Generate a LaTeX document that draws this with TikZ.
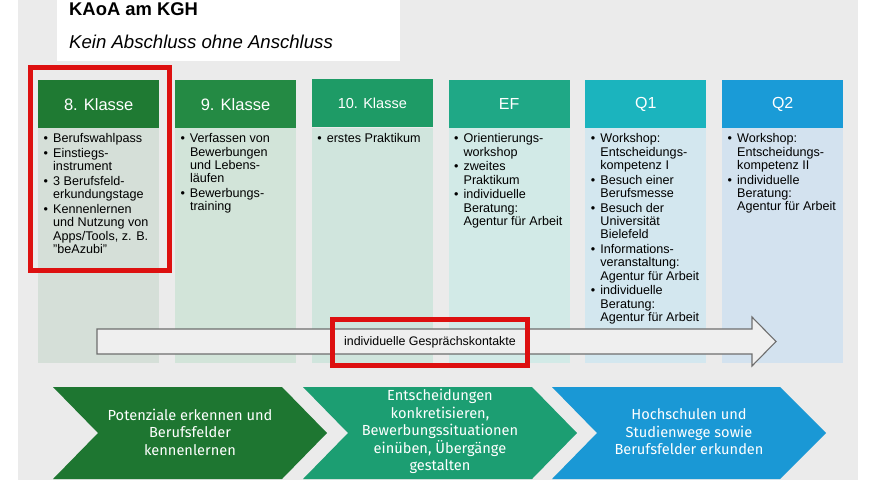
\documentclass[tikz,border=0pt]{standalone}
\usepackage{fontspec}
\setmainfont{Liberation Sans}
\newfontfamily\fira{Fira Sans}
\definecolor{bgc}{HTML}{EBEBEB}
\definecolor{hA}{HTML}{1F7A33}
\definecolor{hB}{HTML}{248A44}
\definecolor{hC}{HTML}{1E9B66}
\definecolor{hD}{HTML}{1FA886}
\definecolor{hE}{HTML}{1BB4BE}
\definecolor{hF}{HTML}{1A9BD7}
\definecolor{bA}{HTML}{D5DFD8}
\definecolor{bB}{HTML}{D2E4D9}
\definecolor{bC}{HTML}{D0E5DD}
\definecolor{bD}{HTML}{D2EAE7}
\definecolor{bE}{HTML}{D3E7EF}
\definecolor{bF}{HTML}{D3E2EF}
\definecolor{cA}{HTML}{1E7631}
\definecolor{cB}{HTML}{1C9E72}
\definecolor{cC}{HTML}{1A98D5}
\definecolor{redc}{HTML}{DD1010}
\definecolor{arrowfill}{HTML}{EFEFEF}
\definecolor{arrowline}{HTML}{6E6E6E}
\newcommand{\bul}{\makebox[9.5pt][l]{\textbullet}}
\newcommand{\ind}{\hspace*{9.5pt}}
\begin{document}
\begin{tikzpicture}[x=1pt,y=-1pt,
  hdr/.style={anchor=north west,minimum width=121pt,minimum height=48pt,inner sep=0pt,text=white},
  bodybox/.style={anchor=north west,minimum width=121pt,minimum height=235pt,inner sep=0pt},
  bodytext/.style={anchor=north west,inner sep=0pt,align=left,font=\fontsize{12.6}{13.3}\selectfont},
  chev/.style={text=white,align=center,font=\fira\fontsize{14.6}{17.6}\selectfont},
  redbox/.style={draw=redc,line width=5pt}]
\useasboundingbox (0,0) rectangle (880,480);
\fill[bgc] (18,0) rectangle (858,480);
% title
\fill[white] (57,0) rectangle (400,61);
\node[anchor=base west,inner sep=0pt] (t1) at (69,15.2) {\bfseries\fontsize{18.4}{22}\selectfont KAoA am KGH};
\node[anchor=base west,inner sep=0pt] (t2) at (69,48.7) {\itshape\fontsize{18.6}{22}\selectfont Kein Abschluss ohne Anschluss};
% columns
\node[bodybox,fill=bA] (b1) at (38,128) {};
\node[bodybox,fill=bB] (b2) at (174.8,128) {};
\node[bodybox,fill=bC] (b3) at (311.6,128) {};
\node[bodybox,fill=bD] (b4) at (448.4,128) {};
\node[bodybox,fill=bE] (b5) at (585.2,128) {};
\node[bodybox,fill=bF] (b6) at (722,128) {};
\node[hdr,fill=hA,font=\fontsize{16.5}{18}\selectfont] (h1) at (38,80) {8. Klasse};
\node[hdr,fill=hB,font=\fontsize{16.5}{18}\selectfont] (h2) at (174.8,80) {9. Klasse};
\node[hdr,fill=hC,font=\fontsize{14.5}{16}\selectfont] (h3) at (311.6,79) {10. Klasse};
\node[hdr,fill=hD,font=\fontsize{16}{17}\selectfont] (h4) at (448.4,80) {EF};
\node[hdr,fill=hE,font=\fontsize{16}{17}\selectfont] (h5) at (585.2,80) {Q1};
\node[hdr,fill=hF,font=\fontsize{16}{17}\selectfont] (h6) at (722,80) {Q2};
% body texts
\node[bodytext] (x1) at (43.5,133.5) {\bul Berufswahlpass\\[1.4pt]
\bul Einstiegs-\\\ind instrument\\[1.4pt]
\bul 3 Berufsfeld-\\\ind erkundungstage\\[1.4pt]
\bul Kennenlernen\\\ind und Nutzung von\\\ind Apps/Tools, z. B.\\\ind "beAzubi"};
\node[bodytext] (x2) at (180.3,133.5) {\bul Verfassen von\\\ind Bewerbungen\\\ind und Lebens-\\\ind läufen\\[1.4pt]
\bul Bewerbungs-\\\ind training};
\node[bodytext] (x3) at (317.1,133.5) {\bul erstes Praktikum};
\node[bodytext] (x4) at (453.9,133.5) {\bul Orientierungs-\\\ind workshop\\[1.4pt]
\bul zweites\\\ind Praktikum\\[1.4pt]
\bul individuelle\\\ind Beratung:\\\ind Agentur für Arbeit};
\node[bodytext] (x5) at (590.7,133.5) {\bul Workshop:\\\ind Entscheidungs-\\\ind kompetenz I\\[1.4pt]
\bul Besuch einer\\\ind Berufsmesse\\[1.4pt]
\bul Besuch der\\\ind Universität\\\ind Bielefeld\\[1.4pt]
\bul Informations-\\\ind veranstaltung:\\\ind Agentur für Arbeit\\[1.4pt]
\bul individuelle\\\ind Beratung:\\\ind Agentur für Arbeit};
\node[bodytext] (x6) at (727.5,133.5) {\bul Workshop:\\\ind Entscheidungs-\\\ind kompetenz II\\[1.4pt]
\bul individuelle\\\ind Beratung:\\\ind Agentur für Arbeit};
% red frame around 8. Klasse
\node[redbox,minimum width=139pt,minimum height=203pt,inner sep=0pt] (rb1) at (100,169) {};
% block arrow
\draw[fill=arrowfill,draw=arrowline,line width=1.1pt,line join=miter]
  (97,329) -- (752,329) -- (752,317) -- (776,341.5) -- (752,366) -- (752,354) -- (97,354) -- cycle;
\node[redbox,minimum width=195pt,minimum height=46pt,inner sep=0pt,font=\fontsize{12.4}{14}\selectfont] (gk) at (430,342) {individuelle Gesprächskontakte};
% chevrons
\fill[cA] (53,387) -- (282,387) -- (327,433) -- (282,479) -- (53,479) -- (98,433) -- cycle;
\fill[cB] (303,387) -- (532,387) -- (577,433) -- (532,479) -- (303,479) -- (348,433) -- cycle;
\fill[cC] (552,387) -- (780,387) -- (826,433) -- (780,479) -- (552,479) -- (597,433) -- cycle;
\node[chev] (p1) at (190,432) {Potenziale erkennen und\\Berufsfelder\\kennenlernen};
\node[chev] (p2) at (440,431.5) {Entscheidungen\\konkretisieren,\\Bewerbungssituationen\\einüben, Übergänge\\gestalten};
\node[chev] (p3) at (689,432) {Hochschulen und\\Studienwege sowie\\Berufsfelder erkunden};
\end{tikzpicture}
\end{document}
